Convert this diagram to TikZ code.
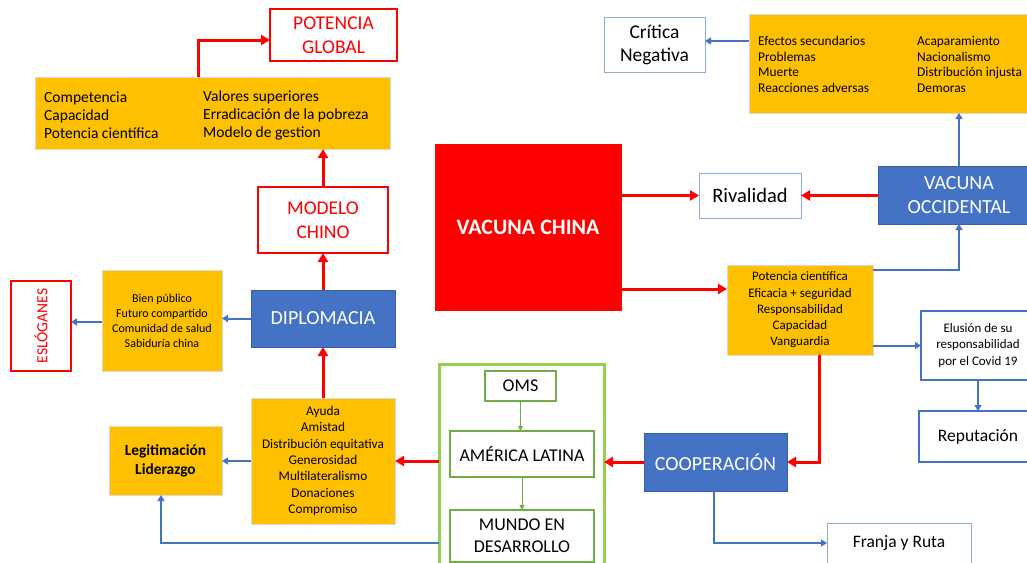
\documentclass[tikz,border=0pt]{standalone}
\usepackage{fontspec}
\setmainfont{Carlito}
\usetikzlibrary{arrows.meta, positioning}
\definecolor{vred}{HTML}{FF0000}
\definecolor{vyellow}{HTML}{FFC000}
\definecolor{vblue}{HTML}{4472C4}
\definecolor{vgreen}{HTML}{70AD47}
\definecolor{lgreen}{HTML}{92D050}
\definecolor{pblue}{HTML}{8FAADC}
\newcommand{\vfs}[2]{\fontsize{#1}{#2}\selectfont}

\begin{document}
\begin{tikzpicture}[
    x=1pt, y=-1pt,
    box/.style={draw, align=center, inner sep=2pt, outer sep=0pt},
    yellowbox/.style={box, fill=vyellow, draw=black!15, line width=0.6pt},
    redbox/.style={box, fill=white, draw=vred, line width=2.2pt, text=vred, font=\vfs{19.5}{23.5}},
    bluebox/.style={box, fill=vblue, draw=vblue!85!black, line width=0.6pt, text=white, font=\vfs{20}{24}},
    whitebox/.style={box, fill=white, draw=pblue, line width=1pt, font=\vfs{19.5}{23}},
    greenbox/.style={box, fill=white, draw=vgreen, line width=2.8pt, font=\vfs{18}{22}},
    coltext/.style={anchor=west, align=left, inner sep=0pt},
    redarrow/.style={-{Triangle[length=9pt,width=10pt]}, line width=3pt, vred},
    bluearrow/.style={-{Triangle[length=6pt,width=7pt]}, line width=2pt, vblue},
    greenarrow/.style={-{Triangle[length=5pt,width=5pt]}, line width=0.8pt, vgreen}
  ]
    \clip (0,0) rectangle (1027,562);

    % left column
    \node[redbox, minimum width=127, minimum height=52] (potencia) at (333.5,35) {POTENCIA\\GLOBAL};
    \node[yellowbox, minimum width=355, minimum height=72] (topbox) at (212.5,113) {};
    \node[coltext, font=\vfs{15.5}{18}] (toplft) at ([xshift=9pt,yshift=-2pt]topbox.west)
      {Competencia\\Capacidad\\Potencia científica};
    \node[coltext, font=\vfs{15.5}{18}] (toprgt) at ([xshift=168pt,yshift=-2pt]topbox.west)
      {Valores superiores\\Erradicación de la pobreza\\Modelo de gestion};
    \node[redbox, minimum width=130, minimum height=66] (modelo) at (323,220) {MODELO\\CHINO};
    \node[bluebox, minimum width=144, minimum height=57] (diplo) at (323,318.5) {DIPLOMACIA};
    \node[yellowbox, minimum width=120, minimum height=101, font=\vfs{12}{15}] (slogans) at (162,320.5)
      {Bien público\\Futuro compartido\\Comunidad de salud\\Sabiduría china};
    \node[redbox, minimum width=90, minimum height=60, rotate=90, font=\vfs{15.5}{18}] (esl) at (41,326) {ESLÓGANES};
    \node[yellowbox, minimum width=144, minimum height=126, font=\vfs{13.3}{16.3}] (ayuda) at (323,461)
      {Ayuda\\Amistad\\Distribución equitativa\\Generosidad\\Multilateralismo\\Donaciones\\Compromiso};
    \node[yellowbox, minimum width=113, minimum height=69, font=\bfseries\vfs{15.4}{19}] (legit) at (165.5,460.5)
      {Legitimación\\Liderazgo};

    % green group
    \node[box, draw=lgreen, line width=3pt, minimum width=165, minimum height=206] (green) at (521.5,467) {};
    \node[greenbox, minimum width=71, minimum height=30] (oms) at (520.5,386) {OMS};
    \node[greenbox, minimum width=144, minimum height=46] (amer) at (522,454) {AMÉRICA LATINA};
    \node[greenbox, minimum width=144, minimum height=52] (mundo) at (522,536) {MUNDO EN\\DESARROLLO};

    % centre and right
    \node[box, fill=vred, draw=vred, text=white, minimum width=186, minimum height=166,
      font=\bfseries\vfs{22}{26}] (vchina) at (528,227) {VACUNA CHINA};
    \node[whitebox, minimum width=102, minimum height=45, font=\vfs{20.5}{24}] (rival) at (750,195.5) {Rivalidad};
    \node[bluebox, minimum width=162, minimum height=58] (voccid) at (959,195) {VACUNA\\OCCIDENTAL};
    \node[yellowbox, minimum width=146, minimum height=90, font=\vfs{13}{16.25}] (potcien) at (800,310)
      {Potencia científica\\Eficacia + seguridad\\Responsabilidad\\Capacidad\\Vanguardia};
    \node[yellowbox, minimum width=291, minimum height=99] (trbox) at (894.5,63.5) {};
    \node[coltext, font=\vfs{13.4}{15.7}] (trlft) at ([xshift=9pt,yshift=-1pt]trbox.west)
      {Efectos secundarios\\Problemas\\Muerte\\Reacciones adversas};
    \node[coltext, font=\vfs{13.4}{15.7}] (trrgt) at ([xshift=168pt,yshift=-1pt]trbox.west)
      {Acaparamiento\\Nacionalismo\\Distribución injusta\\Demoras};
    \node[whitebox, minimum width=101, minimum height=55] (critica) at (654.5,44.5) {Crítica\\Negativa};
    \node[whitebox, draw=vblue, line width=2pt, minimum width=114, minimum height=69,
      font=\vfs{13}{16.5}] (elusion) at (978,345.5) {Elusión de su\\responsabilidad\\por el Covid 19};
    \node[whitebox, draw=vblue, line width=2pt, minimum width=118, minimum height=51,
      font=\vfs{17.5}{20}] (reput) at (978,436.5) {Reputación};
    \node[bluebox, minimum width=143, minimum height=58] (coop) at (715.5,462) {COOPERACIÓN};
    \node[whitebox, minimum width=144, minimum height=40, font=\vfs{17.5}{20}] (franja) at (899,543) {Franja y Ruta};

    % red connectors
    \draw[redarrow] ([xshift=-14.5pt]topbox.north) |- ([yshift=-5pt]potencia.west);
    \draw[redarrow] (modelo.north) -- (modelo.north |- topbox.south);
    \draw[redarrow] (diplo.north) -- (modelo.south);
    \draw[redarrow] (ayuda.north) -- (diplo.south);
    \draw[redarrow] (green.west |- ayuda.east) -- (ayuda.east);
    \draw[redarrow] (coop.west) -- (coop.west -| green.east);
    \draw[redarrow] ([xshift=19pt]potcien.south) |- (coop.east);
    \draw[redarrow] (vchina.east |- rival.west) -- (rival.west);
    \draw[redarrow] (voccid.west |- rival.east) -- (rival.east);
    \draw[redarrow] ([yshift=-62pt]vchina.east) coordinate (vcout) -- (vcout -| potcien.west);

    % blue connectors
    \draw[bluearrow] (diplo.west) -- (diplo.west -| slogans.east);
    \draw[bluearrow] ([yshift=-1.5pt]slogans.west) -- ([yshift=-1.5pt]slogans.west -| esl.south);
    \draw[bluearrow] (ayuda.west) -- (ayuda.west -| legit.east);
    \draw[bluearrow] (green.west |- franja.west) -| ([xshift=-4.5pt]legit.south);
    \draw[bluearrow] ([xshift=-2pt]coop.south) |- (franja.west);
    \draw[bluearrow] ([yshift=40pt]potcien.east) -| (voccid.south);
    \draw[bluearrow] (voccid.north) -- (voccid.north |- trbox.south);
    \draw[bluearrow] ([yshift=3.5pt]trbox.west |- critica.east) -- ([yshift=3.5pt]critica.east);
    \draw[bluearrow] (potcien.east |- elusion.west) -- (elusion.west);
    \draw[bluearrow] (elusion.south) -- (reput.north);

    % green connectors
    \draw[greenarrow] (oms.south) -- (oms.south |- amer.north);
    \draw[greenarrow] (amer.south) -- (mundo.north);
  \end{tikzpicture}
\end{document}
